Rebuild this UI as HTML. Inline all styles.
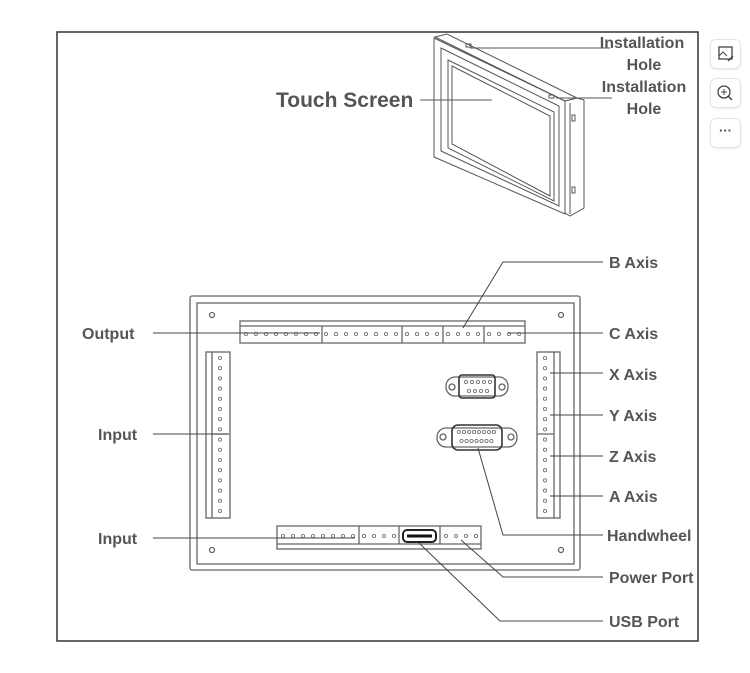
<!DOCTYPE html>
<html><head><meta charset="utf-8"><style>
body{margin:0;background:#fff;width:750px;height:673px;overflow:hidden;font-family:"Liberation Sans",sans-serif}
.btn{position:absolute;left:710px;width:29px;height:28px;border:1px solid #e4e4e4;border-radius:6px;background:#fff;box-shadow:0 1px 2px rgba(0,0,0,.08)}
</style></head><body>
<svg id="s" width="750" height="673" viewBox="0 0 750 673" style="position:absolute;left:0;top:0" font-family="Liberation Sans, sans-serif">
<rect x="57" y="32" width="641" height="609" fill="#fff" stroke="#333" stroke-width="1.5"/>
<g fill="none" stroke="#555" stroke-width="1">
<polygon points="435,37 447,34 577,98 565,101" fill="#fff"/>
<polygon points="565,101 577,98 584,100 584,208 570,216 565,213" fill="#fff"/>
<line x1="570" y1="103" x2="570" y2="214"/>
<polygon points="434,38 565,101 565,214 434,157" fill="#fff"/>
<polygon points="441,48 559,106 559,206 441,151"/>
<polygon points="448,60 554,112 554,201 448,148"/>
<polygon points="452,66 550,116 550,196 452,144"/>
<rect x="466" y="44" width="5" height="3"/>
<rect x="549" y="95" width="5" height="3"/>
<rect x="572" y="115" width="3" height="6"/>
<rect x="572" y="187" width="3" height="6"/>
</g>
<g stroke="#555" stroke-width="1" fill="none">
<line x1="470" y1="48" x2="610" y2="48"/>
<line x1="556" y1="98" x2="612" y2="98"/>
<line x1="420" y1="100" x2="492" y2="100"/>
</g>
<text x="276" y="107" font-size="21" font-weight="bold" fill="#555">Touch Screen</text>
<g font-size="16" font-weight="bold" fill="#555" text-anchor="middle">
<text x="642" y="48">Installation</text><text x="644" y="70">Hole</text>
<text x="644" y="92">Installation</text><text x="644" y="114">Hole</text>
</g>
<g fill="none" stroke="#666" stroke-width="1.3">
<rect x="190" y="296" width="390" height="274" rx="2"/>
<rect x="197" y="303" width="377" height="261"/>
<rect x="240" y="321" width="285" height="22"/>
<line x1="240" y1="326" x2="525" y2="326"/>
<line x1="322" y1="326" x2="322" y2="343"/><line x1="402" y1="326" x2="402" y2="343"/><line x1="443" y1="326" x2="443" y2="343"/><line x1="484" y1="326" x2="484" y2="343"/>
<rect x="206" y="352" width="24" height="166"/>
<line x1="212" y1="352" x2="212" y2="518"/><line x1="212" y1="434" x2="229" y2="434"/>
<rect x="537" y="352" width="23" height="166"/>
<line x1="554" y1="352" x2="554" y2="518"/><line x1="537" y1="434" x2="554" y2="434"/>
<rect x="277" y="526" width="204" height="23"/>
<line x1="277" y1="544" x2="481" y2="544"/>
<line x1="359" y1="526" x2="359" y2="544"/><line x1="399" y1="526" x2="399" y2="544"/><line x1="440" y1="526" x2="440" y2="544"/>
<rect x="403" y="530" width="33" height="12" rx="4" stroke="#222" stroke-width="2"/>
<line x1="407" y1="536" x2="432" y2="536" stroke="#111" stroke-width="3"/>
<circle cx="212" cy="315" r="2.5"/><circle cx="561" cy="315" r="2.5"/>
<circle cx="212" cy="550" r="2.5"/><circle cx="561" cy="550" r="2.5"/>
<rect x="446" y="377" width="62" height="19" rx="9"/>
<rect x="459" y="375" width="36" height="23" rx="3" stroke="#333" stroke-width="1.6"/>
<circle cx="452" cy="387" r="3"/><circle cx="502" cy="387" r="3"/>
<rect x="437" y="428" width="80" height="19" rx="9"/>
<rect x="452" y="425" width="50" height="25" rx="6" stroke="#333" stroke-width="1.6"/>
<circle cx="443" cy="437" r="3"/><circle cx="511" cy="437" r="3"/>
</g>
<g id="dots" fill="none" stroke="#777" stroke-width="0.9"></g>
<g stroke="#444" stroke-width="1" fill="none">
<line x1="153" y1="333" x2="320" y2="333"/>
<line x1="153" y1="434" x2="229" y2="434"/>
<line x1="153" y1="538" x2="355" y2="538"/>
<polyline points="603,262 503,262 463,328"/>
<line x1="508" y1="333" x2="603" y2="333"/>
<line x1="550" y1="373" x2="603" y2="373"/>
<line x1="550" y1="415" x2="603" y2="415"/>
<line x1="550" y1="456" x2="603" y2="456"/>
<line x1="550" y1="496" x2="603" y2="496"/>
<polyline points="478,448 503,535 603,535"/>
<polyline points="461,540 503,577 603,577"/>
<polyline points="419,543 500,621 603,621"/>
</g>
<g font-size="16" font-weight="bold" fill="#555">
<text x="82" y="339">Output</text>
<text x="98" y="440">Input</text>
<text x="98" y="544">Input</text>
<text x="609" y="268">B Axis</text>
<text x="609" y="339">C Axis</text>
<text x="609" y="380">X Axis</text>
<text x="609" y="421">Y Axis</text>
<text x="609" y="462">Z Axis</text>
<text x="609" y="502">A Axis</text>
<text x="607" y="541">Handwheel</text>
<text x="609" y="583">Power Port</text>
<text x="609" y="627">USB Port</text>
</g>
</svg>
<div class="btn" style="top:39px"><svg width="29" height="28"><rect x="8" y="7" width="13" height="12" fill="none" stroke="#444" stroke-width="1.3"/><polyline points="8,16 12,12 16,16" fill="none" stroke="#444"/><line x1="17" y1="21" x2="22" y2="16" stroke="#444" stroke-width="1.5"/></svg></div>
<div class="btn" style="top:78px"><svg width="29" height="28"><circle cx="13" cy="13" r="6" fill="none" stroke="#444" stroke-width="1.3"/><line x1="17.5" y1="17.5" x2="21" y2="21" stroke="#444" stroke-width="1.5"/><line x1="10" y1="13" x2="16" y2="13" stroke="#444"/><line x1="13" y1="10" x2="13" y2="16" stroke="#444"/></svg></div>
<div class="btn" style="top:118px;text-align:center;line-height:24px;font-size:13px;color:#444;font-weight:bold">···</div>
<script>
var g=document.getElementById('dots'),ns='http://www.w3.org/2000/svg';
function c(x,y){var e=document.createElementNS(ns,'circle');e.setAttribute('cx',x);e.setAttribute('cy',y);e.setAttribute('r',1.6);g.appendChild(e);}
var tx=[246,256,266,276,286,296,306,316,326,336,346,356,366,376,386,396,407,417,427,437,448,458,468,478,489,499,509,519];
tx.forEach(function(x){c(x,334)});
for(var i=0;i<16;i++){c(220,358+i*10.2);c(545,358+i*10.2);}
var bx=[283,293,303,313,323,333,343,353,364,374,384,394,446,456,466,476];
bx.forEach(function(x){c(x,536)});
for(var i=0;i<5;i++)c(466+i*6,382);for(var i=0;i<4;i++)c(469+i*6,391);
for(var i=0;i<8;i++)c(459+i*5,432);for(var i=0;i<7;i++)c(461.5+i*5,441);
</script>
</body></html>
